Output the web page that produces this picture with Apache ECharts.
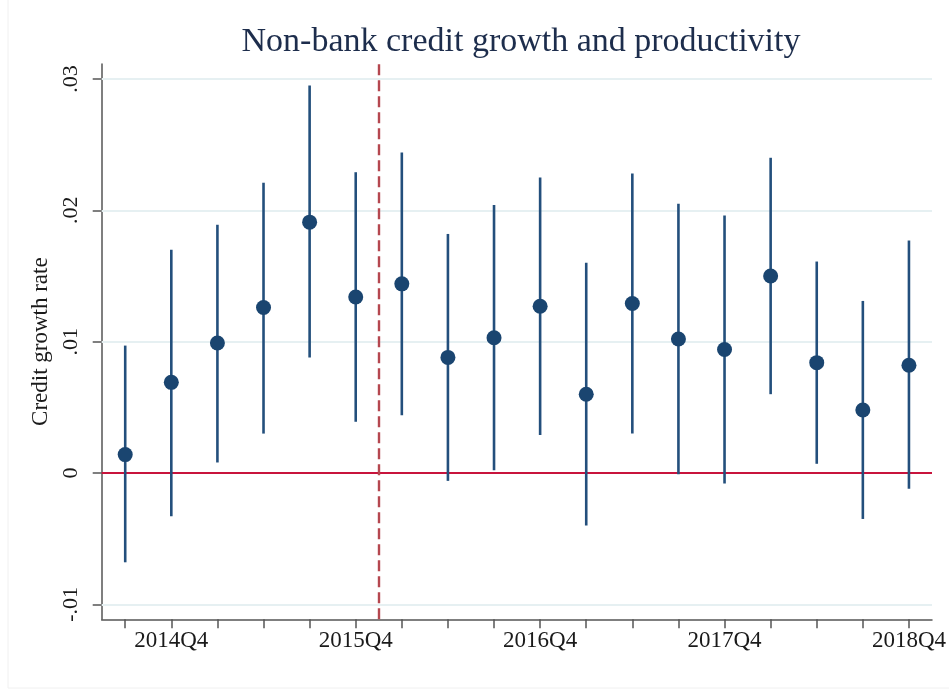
<!DOCTYPE html>
<html>
<head>
<meta charset="utf-8">
<script src="https://cdn.jsdelivr.net/npm/echarts@6/dist/echarts.min.js"></script>
<style>
  html, body { margin: 0; padding: 0; background: #fff; }
  #chart { width: 949px; height: 691px; }
</style>
</head>
<body>
<div id="chart"></div>
<script>
// Quarters on the horizontal axis (position 1..18)
const quarters = ['2014Q3','2014Q4','2015Q1','2015Q2','2015Q3','2015Q4',
                  '2016Q1','2016Q2','2016Q3','2016Q4','2017Q1','2017Q2',
                  '2017Q3','2017Q4','2018Q1','2018Q2','2018Q3','2018Q4'];
// Point estimates of credit growth
const estimate = [0.0014, 0.0069, 0.0099, 0.0126, 0.0191, 0.0134,
                  0.0144, 0.0088, 0.0103, 0.0127, 0.0060, 0.0129,
                  0.0102, 0.0094, 0.0150, 0.0084, 0.0048, 0.0082];
// Confidence interval bounds
const upper = [0.0097, 0.0170, 0.0189, 0.0221, 0.0295, 0.0229,
               0.0244, 0.0182, 0.0204, 0.0225, 0.0160, 0.0228,
               0.0205, 0.0196, 0.0240, 0.0161, 0.0131, 0.0177];
const lower = [-0.0068, -0.0033, 0.0008, 0.0030, 0.0088, 0.0039,
               0.0044, -0.0006, 0.0002, 0.0029, -0.0040, 0.0030,
               -0.0001, -0.0008, 0.0060, 0.0007, -0.0035, -0.0012];
// Y tick values and their labels
const yTicks = [-0.01, 0, 0.01, 0.02, 0.03];
const yTickLabels = ['-.01', '0', '.01', '.02', '.03'];
// Quarters that carry a label
const labelledQuarters = ['2014Q4', '2015Q4', '2016Q4', '2017Q4', '2018Q4'];
// Policy break placed between 2015Q4 and 2016Q1
const breakPosition = 6.5;

const positions = quarters.map((q, i) => i + 1);
const pointData = estimate.map((v, i) => [positions[i], v]);
const barData = quarters.map((q, i) => [positions[i], lower[i], upper[i]]);
const labelPositions = labelledQuarters.map(q => quarters.indexOf(q) + 1);

const serif = '"Liberation Serif", "DejaVu Serif", serif';
const navy = '#1a4570';
const chart = echarts.init(document.getElementById('chart'));

chart.setOption({
  animation: false,
  backgroundColor: '#ffffff',
  title: {
    text: 'Non-bank credit growth and productivity',
    left: 516,
    top: 20,
    textAlign: 'center',
    textStyle: { fontFamily: serif, fontSize: 34, fontWeight: 'normal', color: '#1d2d4c' }
  },
  graphic: [{
    type: 'rect',
    shape: { x: 8, y: -2, width: 945, height: 690 },
    style: { fill: 'none', stroke: '#f0f0f0', lineWidth: 1 },
    silent: true, z: -10
  }],
  grid: { left: 101.7, right: 14, top: 64, bottom: 71.7 },
  xAxis: {
    type: 'value',
    min: 0.49,
    max: 18.5,
    axisLine: { show: true, onZero: false, lineStyle: { color: '#555', width: 1.5 } },
    axisTick: { show: true, customValues: positions, length: 9, lineStyle: { color: '#555', width: 1.5 } },
    axisLabel: {
      customValues: labelPositions,
      formatter: v => quarters[Math.round(v) - 1],
      fontFamily: serif, fontSize: 23, color: '#1a1a1a', margin: 10
    },
    splitLine: { show: false }
  },
  yAxis: {
    type: 'value',
    min: -0.01114,
    max: 0.03114,
    name: 'Credit growth rate',
    nameLocation: 'middle',
    nameGap: 42,
    nameTextStyle: { fontFamily: serif, fontSize: 23, color: '#1a1a1a' },
    axisLine: { show: true, onZero: false, lineStyle: { color: '#555', width: 1.5 } },
    axisTick: { show: true, customValues: yTicks, length: 9, lineStyle: { color: '#555', width: 1.5 } },
    axisLabel: {
      customValues: yTicks,
      formatter: v => yTickLabels[yTicks.findIndex(t => Math.abs(t - v) < 1e-9)],
      rotate: 90,
      fontFamily: serif, fontSize: 22, color: '#1a1a1a', margin: 19
    },
    splitLine: { show: false }
  },
  series: [
    {
      // gridlines, zero line and the break marker
      type: 'line',
      data: [],
      silent: true,
      z: 1,
      markLine: {
        z: 1,
        silent: true,
        symbol: 'none',
        label: { show: false },
        data: [
          ...yTicks.filter(t => t !== 0).map(t => ({ yAxis: t, lineStyle: { color: '#e6f0f2', width: 1.8, type: 'solid' } })),
          { yAxis: 0, lineStyle: { color: '#c8143c', width: 1.8, type: 'solid' } },
          { xAxis: breakPosition, lineStyle: { color: '#b5474f', width: 2.4, type: [11, 5] } }
        ]
      }
    },
    {
      // confidence intervals
      type: 'custom',
      z: 9,
      data: barData,
      renderItem: (params, api) => {
        const top = api.coord([api.value(0), api.value(2)]);
        const bot = api.coord([api.value(0), api.value(1)]);
        return {
          type: 'line',
          shape: { x1: top[0], y1: top[1], x2: bot[0], y2: bot[1] },
          style: { stroke: '#234f7c', lineWidth: 2.6 }
        };
      }
    },
    {
      // point estimates
      type: 'scatter',
      z: 10,
      data: pointData,
      symbol: 'circle',
      symbolSize: 15,
      itemStyle: { color: navy, opacity: 1 }
    }
  ]
});
</script>
</body>
</html>
